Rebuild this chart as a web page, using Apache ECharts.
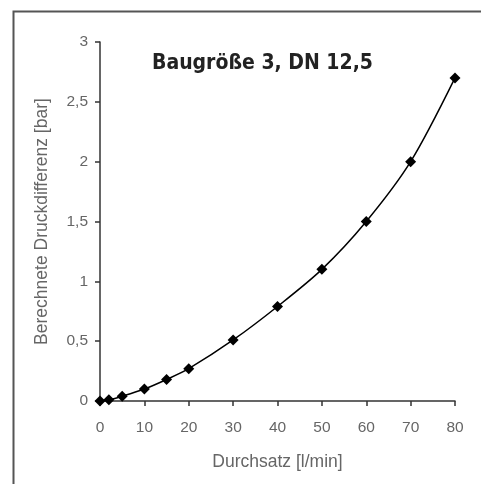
<!DOCTYPE html>
<html>
<head>
<meta charset="utf-8">
<script src="https://cdn.jsdelivr.net/npm/echarts@6/dist/echarts.min.js"></script>
<style>html,body{margin:0;padding:0;background:#fff}#c{width:481px;height:485px}</style>
</head>
<body>
<div id="c"></div>
<script>
var flow = [0, 2, 5, 10, 15, 20, 30, 40, 50, 60, 70, 80];
var pressure = [0, 0.01, 0.04, 0.1, 0.18, 0.27, 0.51, 0.79, 1.1, 1.5, 2.0, 2.7];
var titleText = 'Baugröße 3, DN 12,5';
var xName = 'Durchsatz [l/min]';
var yName = 'Berechnete Druckdifferenz [bar]';

var chart = echarts.init(document.getElementById('c'), null, {renderer: 'canvas'});
var comma = function (v) { return String(v).replace('.', ','); };
chart.setOption({
  animation: false,
  backgroundColor: '#fff',
  title: {
    text: titleText,
    left: 147, top: 48,
    textStyle: {fontFamily: 'DejaVu Sans Condensed, DejaVu Sans', fontWeight: 'bold', fontSize: 21, color: '#222'}
  },
  grid: {left: 100, right: 26, top: 42, bottom: 84},
  xAxis: {
    type: 'value', min: 0, max: 80, interval: 10,
    name: xName, nameLocation: 'middle', nameGap: 52,
    nameTextStyle: {fontFamily: 'Liberation Sans', fontSize: 17.5, color: '#666'},
    axisLine: {lineStyle: {color: '#333', width: 1.5}},
    axisTick: {show: true, length: 5, lineStyle: {color: '#333', width: 1.5}},
    axisLabel: {fontFamily: 'Liberation Sans', fontSize: 15.5, color: '#666', margin: 19, formatter: comma},
    splitLine: {show: false}
  },
  yAxis: {
    type: 'value', min: 0, max: 3, interval: 0.5,
    name: yName, nameLocation: 'middle', nameGap: 49,
    nameTextStyle: {fontFamily: 'Liberation Sans', fontSize: 17.5, color: '#666'},
    axisLine: {show: true, lineStyle: {color: '#333', width: 1.5}},
    axisTick: {show: true, length: 5, lineStyle: {color: '#333', width: 1.5}},
    axisLabel: {fontFamily: 'Liberation Sans', fontSize: 15.5, color: '#666', margin: 12, formatter: comma},
    splitLine: {show: false}
  },
  graphic: [
    {type: 'polyline', shape: {points: [[13.5, 484], [13.5, 11.5], [481, 11.5]]}, style: {stroke: '#555', lineWidth: 2, fill: null}}
  ],
  series: [{
    type: 'line',
    data: flow.map(function (f, i) { return [f, pressure[i]]; }),
    smooth: 0.3,
    symbol: 'diamond', symbolSize: 11,
    itemStyle: {color: '#000'},
    lineStyle: {color: '#000', width: 1.5}
  }]
});
</script>
</body>
</html>
